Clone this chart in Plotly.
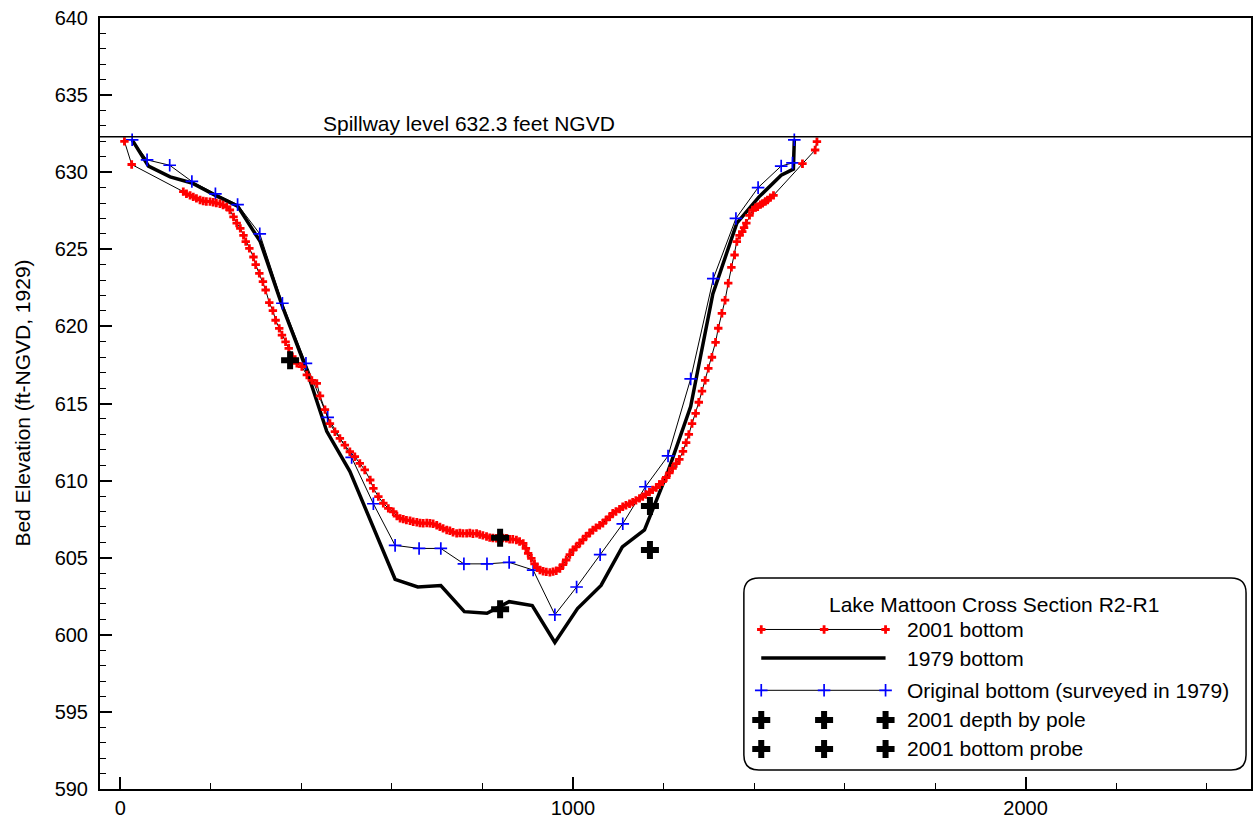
import plotly.graph_objects as go

# ---- Cross section R2-R1, Lake Mattoon: distance (ft) vs bed elevation (ft NGVD 1929) ----

# 2001 bottom (survey soundings)
red_x = [9, 25, 139, 146, 154, 161, 168, 176, 183, 190, 198, 205, 212, 220, 227, 235, 242, 250, 257, 265,
         272, 277, 285, 294, 299, 307, 315, 321, 329, 337, 343, 351, 357, 365, 372, 380, 390, 401, 412, 423,
         434, 441, 452, 463, 474, 485, 496, 507, 518, 529, 540, 552, 559, 570, 581, 592, 603, 611, 618, 625,
         632, 640, 647, 655, 662, 669, 677, 684, 691, 699, 706, 713, 721, 728, 735, 743, 750, 757, 765, 772,
         779, 787, 794, 801, 809, 816, 823, 831, 838, 845, 853, 860, 867, 875, 882, 890, 896, 901, 908, 915,
         921, 927, 934, 941, 949, 956, 963, 971, 978, 985, 993, 1000, 1007, 1015, 1022, 1029, 1037, 1044, 1051, 1059,
         1066, 1073, 1081, 1088, 1095, 1103, 1110, 1117, 1125, 1132, 1139, 1147, 1154, 1161, 1169, 1176, 1184, 1191, 1198, 1206,
         1213, 1220, 1228, 1235, 1243, 1250, 1256, 1263, 1271, 1278, 1285, 1292, 1299, 1307, 1315, 1321, 1329, 1336, 1343, 1350,
         1357, 1362, 1368, 1374, 1378, 1383, 1390, 1397, 1403, 1408, 1414, 1419, 1425, 1430, 1436, 1443, 1507, 1535, 1539]
red_y = [632.0, 630.5, 628.74, 628.6, 628.5, 628.4, 628.3, 628.2, 628.13, 628.1, 628.09, 628.05, 628.0, 627.95, 627.87, 627.75, 627.55, 627.1, 626.7, 626.36,
         625.9, 625.5, 625.06, 624.5, 624.0, 623.44, 622.9, 622.36, 621.54, 621.02, 620.4, 619.87, 619.44, 619.0, 618.58, 618.04, 617.6, 617.39, 616.85, 616.5,
         616.3, 615.5, 614.6, 613.7, 613.17, 612.74, 612.3, 611.87, 611.55, 611.12, 610.69, 610.04, 609.5, 608.96, 608.53, 608.2, 607.98, 607.7, 607.55, 607.5,
         607.44, 607.4, 607.33, 607.3, 607.25, 607.23, 607.25, 607.23, 607.2, 607.1, 607.0, 606.9, 606.8, 606.75, 606.65, 606.58, 606.6, 606.58, 606.58, 606.6,
         606.55, 606.58, 606.5, 606.45, 606.37, 606.3, 606.28, 606.26, 606.3, 606.28, 606.26, 606.2, 606.2, 606.15, 606.05, 605.93, 605.6, 605.28, 604.96, 604.6,
         604.35, 604.2, 604.12, 604.08, 604.05, 604.1, 604.15, 604.3, 604.55, 604.85, 605.2, 605.5, 605.7, 605.95, 606.15, 606.4, 606.6, 606.8, 606.95, 607.1,
         607.23, 607.45, 607.65, 607.88, 608.0, 608.15, 608.3, 608.4, 608.5, 608.6, 608.72, 608.85, 608.96, 609.1, 609.25, 609.4, 609.55, 609.75, 609.93, 610.2,
         610.5, 610.8, 611.1, 611.38, 611.9, 612.46, 613.0, 613.7, 614.36, 615.08, 615.8, 616.5, 617.28, 618.0, 618.97, 619.88, 620.85, 621.7, 622.8, 623.83,
         624.63, 625.5, 625.9, 626.14, 626.4, 626.7, 627.2, 627.55, 627.7, 627.76, 627.9, 627.98, 628.1, 628.2, 628.35, 628.5, 630.55, 631.44, 631.98]

# 1979 bottom
b79_x = [26, 62, 110, 158, 210, 259, 309, 358, 410, 456, 507, 557, 607, 657, 708, 760, 810, 859, 910, 960,
         1010, 1062, 1109, 1158, 1210, 1260, 1309, 1362, 1411, 1460, 1487, 1489]
b79_y = [632.1, 630.4, 629.7, 629.3, 628.5, 627.8, 625.5, 621.3, 617.3, 613.2, 610.6, 607.1, 603.6, 603.1, 603.2, 601.5, 601.4, 602.15, 601.9, 599.5,
         601.7, 603.2, 605.7, 606.8, 610.6, 614.8, 622.1, 626.7, 628.4, 629.8, 630.2, 632.1]

# Original bottom (surveyed in 1979)
orig_x = [26, 59, 109, 158, 210, 259, 308, 358, 410, 458, 511, 559, 607, 660, 708, 759, 810, 859, 912, 960,
          1008, 1060, 1110, 1160, 1210, 1260, 1310, 1360, 1409, 1460, 1485, 1489]
orig_y = [632.1, 630.8, 630.45, 629.4, 628.6, 627.9, 626.0, 621.5, 617.6, 614.1, 611.5, 608.5, 605.8, 605.6, 605.6, 604.6, 604.6, 604.7, 604.2, 601.3,
          603.1, 605.2, 607.2, 609.6, 611.6, 616.6, 623.1, 627.0, 629.0, 630.4, 630.6, 632.1]

# 2001 point measurements
pole_x = [375, 839, 1170]
pole_y = [617.8, 606.3, 608.35]
probe_x = [839, 1170]
probe_y = [601.65, 605.5]

spillway = 632.3

legend_title = "Lake Mattoon Cross Section R2-R1"
legend_labels = ["2001 bottom", "1979 bottom", "Original bottom (surveyed in 1979)",
                 "2001 depth by pole", "2001 bottom probe"]

FONT = "Liberation Sans, Arial, sans-serif"
TXT = 21

red_marker = dict(symbol="cross", size=7, color="#ff0000", line=dict(width=0))
blue_marker = dict(symbol="cross-thin", size=9, line=dict(width=1.7, color="#0000ff"))
big_cross = dict(symbol="cross", size=15, color="black", line=dict(width=0))

fig = go.Figure()

fig.add_trace(go.Scatter(x=b79_x, y=b79_y, mode="lines",
                         line=dict(color="black", width=3.5), showlegend=False))
fig.add_trace(go.Scatter(x=orig_x, y=orig_y, mode="lines+markers",
                         line=dict(color="black", width=1), marker=blue_marker, showlegend=False))
fig.add_trace(go.Scatter(x=red_x, y=red_y, mode="lines+markers",
                         line=dict(color="black", width=1), marker=red_marker, showlegend=False))
fig.add_trace(go.Scatter(x=pole_x, y=pole_y, mode="markers", marker=big_cross, showlegend=False))
fig.add_trace(go.Scatter(x=probe_x, y=probe_y, mode="markers", marker=big_cross, showlegend=False))

# spillway line and label
fig.add_shape(type="line", xref="paper", x0=0, x1=1, yref="y", y0=spillway, y1=spillway,
              line=dict(color="black", width=1.5))
fig.add_annotation(x=444, y=633.15, xref="x", yref="y", xanchor="left", yanchor="middle",
                   text=f"Spillway level {spillway} feet NGVD", showarrow=False,
                   font=dict(family=FONT, size=TXT, color="black"))

# ---- legend box drawn on an overlay axis pair spanning the plot area (0..1) ----
lx0, lx1, ly0, ly1 = 0.5594, 0.9957, 0.0246, 0.2737
rx, ry = 0.013, 0.0195
box = (f"M {lx0+rx},{ly0} L {lx1-rx},{ly0} Q {lx1},{ly0} {lx1},{ly0+ry} "
       f"L {lx1},{ly1-ry} Q {lx1},{ly1} {lx1-rx},{ly1} L {lx0+rx},{ly1} "
       f"Q {lx0},{ly1} {lx0},{ly1-ry} L {lx0},{ly0+ry} Q {lx0},{ly0} {lx0+rx},{ly0} Z")
fig.add_shape(type="path", xref="paper", yref="paper", path=box,
              line=dict(color="black", width=1.5), fillcolor="white", layer="below")

sx = [0.5745, 0.6291, 0.6825]
rows = [0.2069, 0.1698, 0.1280, 0.0895, 0.0519]
samples = [
    dict(mode="lines+markers", line=dict(color="black", width=1), marker=red_marker),
    dict(mode="lines", line=dict(color="black", width=3.5)),
    dict(mode="lines+markers", line=dict(color="black", width=1), marker=blue_marker),
    dict(mode="markers", marker=big_cross),
    dict(mode="markers", marker=big_cross),
]
for ry_, style in zip(rows, samples):
    fig.add_trace(go.Scatter(x=sx, y=[ry_] * 3, xaxis="x2", yaxis="y2",
                             showlegend=False, hoverinfo="skip", **style))
for ry_, label in zip(rows, legend_labels):
    fig.add_annotation(x=0.699, y=ry_, xref="paper", yref="paper", xanchor="left", yanchor="middle",
                       text=label, showarrow=False, font=dict(family=FONT, size=TXT, color="black"))
fig.add_annotation(x=0.7763, y=0.2399, xref="paper", yref="paper", xanchor="center", yanchor="middle",
                   text=legend_title, showarrow=False, font=dict(family=FONT, size=TXT, color="black"))

# y axis title
fig.add_annotation(x=-0.0677, y=0.5, xref="paper", yref="paper", xanchor="center", yanchor="middle",
                   text="Bed Elevation (ft-NGVD, 1929)", textangle=-90, showarrow=False,
                   font=dict(family=FONT, size=TXT, color="black"))

fig.update_layout(
    width=1257, height=828,
    margin=dict(l=100, r=4, t=18, b=39),
    paper_bgcolor="white", plot_bgcolor="white",
    font=dict(family=FONT, size=20, color="black"),
    xaxis=dict(range=[-45, 2498], tickvals=[0, 1000, 2000], ticks="inside", ticklen=12, tickwidth=1.5,
               tickcolor="black", showgrid=False, zeroline=False, showline=True, linecolor="black",
               linewidth=2, mirror=True,
               minor=dict(tick0=0, dtick=200, ticks="inside", ticklen=6, tickwidth=1.2, tickcolor="black")),
    yaxis=dict(range=[590, 640], dtick=5, ticks="inside", ticklen=12, tickwidth=1.5, tickcolor="black",
               showgrid=False, zeroline=False, showline=True, linecolor="black", linewidth=2, mirror=True,
               ticklabelstandoff=6,
               minor=dict(dtick=1, ticks="inside", ticklen=6, tickwidth=1.2, tickcolor="black")),
    xaxis2=dict(overlaying="x", range=[0, 1], visible=False),
    yaxis2=dict(overlaying="y", range=[0, 1], visible=False),
)

fig.write_html("out.html")
